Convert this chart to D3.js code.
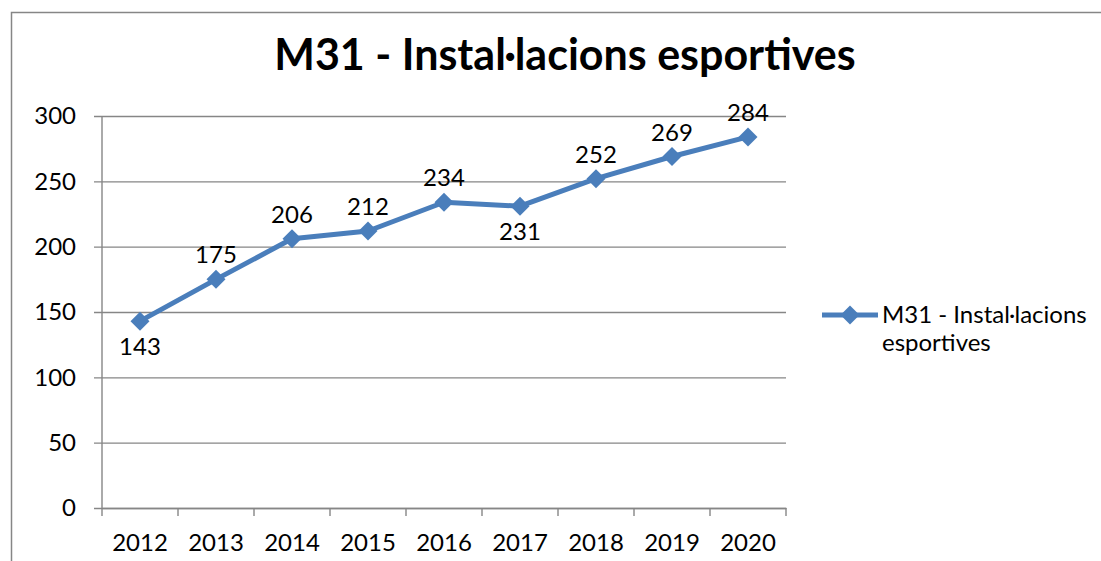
<!DOCTYPE html>
<html>
<head>
<meta charset="utf-8">
<script src="https://cdn.jsdelivr.net/npm/d3@7"></script>
<style>
body { margin: 0; background: #fff; }
svg { display: block; }
text { font-family: Lato, "Open Sans", sans-serif; fill: #000; }
</style>
</head>
<body>
<div id="chart"></div>
<script>
var title = "M31 - Instal·lacions esportives";
var legendLines = ["M31 - Instal·lacions", "esportives"];
var years = ["2012", "2013", "2014", "2015", "2016", "2017", "2018", "2019", "2020"];
var values = [143, 175, 206, 212, 234, 231, 252, 269, 284];
// where each data label sits relative to its point
var labelSide = ["below", "above", "above", "above", "above", "below", "above", "above", "above"];
var yTicks = [0, 50, 100, 150, 200, 250, 300];

var W = 1101, H = 561;
var plot = {left: 102, right: 786, top: 116, bottom: 508};
var gridColor = "#868686";
var lineColor = "#4a7ebb";
var fontSize = "24px";

var svg = d3.select("#chart").append("svg")
	.attr("width", W)
	.attr("height", H);

// outer chart frame (runs off the right / bottom edge)
svg.append("rect")
	.attr("x", 11.5).attr("y", 12.5)
	.attr("width", W + 20).attr("height", H + 20)
	.attr("fill", "none")
	.attr("stroke", gridColor)
	.attr("stroke-width", 1.5);

svg.append("text")
	.attr("x", 565).attr("y", 70)
	.attr("text-anchor", "middle")
	.style("font-size", "43px")
	.style("font-weight", "bold")
	.text(title);

var x = d3.scaleBand().domain(years).range([plot.left, plot.right]);
var y = d3.scaleLinear().domain([0, 300]).range([plot.bottom, plot.top]);

// y axis: gridlines + labels
var yAxis = svg.append("g")
	.attr("transform", "translate(" + (plot.left - 8) + ",0)")
	.call(d3.axisLeft(y).tickValues(yTicks).tickSizeInner(-(plot.right - plot.left + 8)).tickSizeOuter(0).tickPadding(18));
yAxis.select(".domain").remove();
yAxis.selectAll("line").attr("stroke", gridColor).attr("stroke-width", 1.4);
yAxis.selectAll("text").style("font-size", fontSize).attr("fill", "#000");

svg.append("line")
	.attr("x1", plot.left).attr("x2", plot.left)
	.attr("y1", plot.top).attr("y2", plot.bottom)
	.attr("stroke", gridColor).attr("stroke-width", 1.4);

// x axis: labels at centres, ticks on category boundaries
var xAxis = svg.append("g")
	.attr("transform", "translate(0," + plot.bottom + ")")
	.call(d3.axisBottom(x).tickSize(0));
xAxis.select(".domain").attr("stroke", gridColor).attr("stroke-width", 1.4);
xAxis.selectAll("text")
	.attr("y", 43).attr("dy", 0)
	.style("font-size", fontSize).attr("fill", "#000");

svg.append("g").selectAll("line")
	.data(d3.range(years.length + 1))
	.enter().append("line")
	.attr("x1", function(i) { return plot.left + i * x.step(); })
	.attr("x2", function(i) { return plot.left + i * x.step(); })
	.attr("y1", plot.bottom).attr("y2", plot.bottom + 8)
	.attr("stroke", gridColor).attr("stroke-width", 1.4);

var data = years.map(function(yr, i) { return {year: yr, value: values[i], side: labelSide[i]}; });
var cx = function(d) { return x(d.year) + x.bandwidth() / 2; };

var line = d3.line()
	.x(cx)
	.y(function(d) { return y(d.value); });

svg.append("path")
	.datum(data)
	.attr("d", line)
	.attr("fill", "none")
	.attr("stroke", lineColor)
	.attr("stroke-width", 5)
	.attr("stroke-linejoin", "round");

var diamond = d3.symbol().type(d3.symbolSquare).size(180);

svg.append("g").selectAll("path")
	.data(data)
	.enter().append("path")
	.attr("d", diamond)
	.attr("transform", function(d) { return "translate(" + cx(d) + "," + y(d.value) + ") rotate(45)"; })
	.attr("fill", lineColor);

svg.append("g").selectAll("text")
	.data(data)
	.enter().append("text")
	.attr("x", cx)
	.attr("y", function(d) { return y(d.value) + (d.side === "below" ? 34 : -16); })
	.attr("text-anchor", "middle")
	.style("font-size", fontSize)
	.text(function(d) { return d.value; });

// legend
var legend = svg.append("g").attr("transform", "translate(822,315)");
legend.append("line")
	.attr("x1", 0).attr("x2", 56)
	.attr("stroke", lineColor).attr("stroke-width", 5);
legend.append("path")
	.attr("d", diamond)
	.attr("transform", "translate(28,0) rotate(45)")
	.attr("fill", lineColor);
legend.append("text")
	.attr("x", 60).attr("y", 8)
	.style("font-size", fontSize)
	.selectAll("tspan")
	.data(legendLines)
	.enter().append("tspan")
	.attr("x", 60)
	.attr("dy", function(d, i) { return i ? 28 : 0; })
	.text(function(d) { return d; });
</script>
</body>
</html>
